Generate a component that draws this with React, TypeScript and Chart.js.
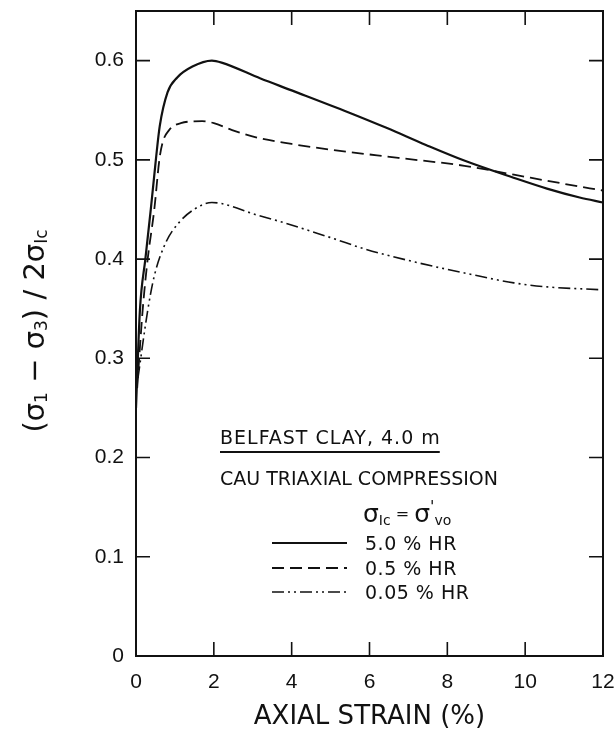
import React, { useEffect, useRef } from 'react';
import { Chart, registerables } from 'chart.js';

Chart.register(...registerables);

// ---- data ----
const xTickValues = [0, 2, 4, 6, 8, 10, 12];
const yTickValues = [0, 0.1, 0.2, 0.3, 0.4, 0.5, 0.6];

const strainHR50 = [0, 0.1, 0.24, 0.38, 0.51, 0.61, 0.81, 1.06, 1.45, 1.95, 2.2, 3.2, 4.0, 5.45, 6.45, 7.45, 8.45, 9.7, 10.56, 11.4, 12];
const ratioHR50 = [0.25, 0.348, 0.4, 0.45, 0.5, 0.534, 0.568, 0.583, 0.594, 0.6, 0.598, 0.582, 0.57, 0.548, 0.532, 0.515, 0.499, 0.482, 0.471, 0.462, 0.457];

const strainHR05 = [0.03, 0.17, 0.3, 0.47, 0.6, 0.68, 0.85, 1.15, 1.7, 2.0, 2.47, 3.15, 4.0, 5.05, 6.74, 8.44, 9.71, 10.98, 12];
const ratioHR05 = [0.27, 0.348, 0.4, 0.45, 0.5, 0.517, 0.53, 0.537, 0.539, 0.537, 0.53, 0.522, 0.516, 0.51, 0.502, 0.494, 0.485, 0.476, 0.469];

const strainHR005 = [0.05, 0.3, 0.47, 0.77, 1.11, 1.49, 1.95, 2.2, 3.06, 3.77, 5.05, 5.89, 7.17, 8.44, 9.71, 10.56, 12];
const ratioHR005 = [0.28, 0.348, 0.383, 0.417, 0.437, 0.45, 0.457, 0.456, 0.445, 0.437, 0.421, 0.41, 0.397, 0.386, 0.376, 0.372, 0.369];

const seriesLabels = ['5.0 % HR', '0.5 % HR', '0.05 % HR'];
const seriesDashes: number[][] = [[], [12, 6], [12, 4, 2, 4, 2, 4]];
const seriesWidths = [2.2, 1.8, 1.6];

const xTitle = 'AXIAL STRAIN (%)';
const noteTitle = 'BELFAST CLAY, 4.0 m';
const noteTest = 'CAU TRIAXIAL COMPRESSION';

const INK = '#111111';
const FONT = '"DejaVu Sans", "Liberation Sans", sans-serif';
const TICK_FONT = '"Liberation Sans", Arial, sans-serif';

type Part = { t: string; size: number; dy?: number };

function drawRich(ctx: CanvasRenderingContext2D, parts: Part[], x: number, y: number, align: 'left' | 'center') {
  let total = 0;
  const widths = parts.map((p) => {
    ctx.font = `${p.size}px ${FONT}`;
    const w = ctx.measureText(p.t).width;
    total += w;
    return w;
  });
  let cx = align === 'center' ? x - total / 2 : x;
  ctx.textAlign = 'left';
  ctx.textBaseline = 'middle';
  parts.forEach((p, i) => {
    ctx.font = `${p.size}px ${FONT}`;
    ctx.fillText(p.t, cx, y + (p.dy || 0));
    cx += widths[i];
  });
}

const framePlugin = {
  id: 'frameTicks',
  afterDatasetsDraw(chart: any) {
    const { ctx, chartArea } = chart;
    const { left, right, top, bottom } = chartArea;
    const xs = chart.scales.x;
    const ys = chart.scales.y;
    const len = 14;
    ctx.save();
    ctx.strokeStyle = INK;
    ctx.lineWidth = 2;
    ctx.strokeRect(left, top, right - left, bottom - top);
    ctx.lineWidth = 1.6;
    ctx.beginPath();
    xTickValues.slice(1, -1).forEach((v) => {
      const px = xs.getPixelForValue(v);
      ctx.moveTo(px, bottom);
      ctx.lineTo(px, bottom - len);
      ctx.moveTo(px, top);
      ctx.lineTo(px, top + len);
    });
    yTickValues.slice(1).forEach((v) => {
      const py = ys.getPixelForValue(v);
      ctx.moveTo(left, py);
      ctx.lineTo(left + len, py);
      ctx.moveTo(right, py);
      ctx.lineTo(right - len, py);
    });
    ctx.stroke();
    ctx.restore();
  },
};

const notePlugin = {
  id: 'notes',
  afterDraw(chart: any) {
    const { ctx } = chart;
    ctx.save();
    ctx.fillStyle = INK;
    ctx.strokeStyle = INK;

    // y-axis title (rotated)
    ctx.save();
    ctx.translate(36, 331);
    ctx.rotate(-Math.PI / 2);
    drawRich(
      ctx,
      [
        { t: '(σ', size: 29 },
        { t: '1', size: 17, dy: 7 },
        { t: ' − σ', size: 29 },
        { t: '3', size: 17, dy: 7 },
        { t: ') / 2σ', size: 29 },
        { t: 'Ic', size: 17, dy: 7 },
      ],
      0,
      0,
      'center'
    );
    ctx.restore();

    // annotation block
    const tx = 220;
    ctx.textAlign = 'left';
    ctx.textBaseline = 'middle';
    ctx.font = `19px ${FONT}`;
    (ctx as any).letterSpacing = '1px';
    ctx.fillText(noteTitle, tx, 439);
    const w = ctx.measureText(noteTitle).width;
    (ctx as any).letterSpacing = '0px';
    ctx.lineWidth = 2;
    ctx.beginPath();
    ctx.moveTo(tx, 452);
    ctx.lineTo(tx + w - 1, 452);
    ctx.stroke();
    ctx.fillText(noteTest, tx, 480);

    drawRich(
      ctx,
      [
        { t: 'σ', size: 25 },
        { t: 'Ic', size: 14, dy: 6 },
        { t: ' = ', size: 16 },
        { t: 'σ', size: 25 },
        { t: "'", size: 16, dy: -7 },
        { t: 'vo', size: 14, dy: 6 },
      ],
      363,
      515,
      'left'
    );

    const rows = [543, 568, 592];
    chart.data.datasets.forEach((ds: any, i: number) => {
      ctx.save();
      ctx.lineWidth = ds.borderWidth;
      ctx.setLineDash(ds.borderDash || []);
      ctx.beginPath();
      ctx.moveTo(272, rows[i]);
      ctx.lineTo(347, rows[i]);
      ctx.stroke();
      ctx.restore();
      ctx.font = `19px ${FONT}`;
      (ctx as any).letterSpacing = '0.5px';
      ctx.textAlign = 'left';
      ctx.textBaseline = 'middle';
      ctx.fillText(ds.label, 365, rows[i] + 2);
      (ctx as any).letterSpacing = '0px';
    });
    ctx.restore();
  },
};

function makeSeries(xs: number[], ys: number[]) {
  return xs.map((x, i) => ({ x, y: ys[i] }));
}

function noScalePadding(s: any) {
  s.paddingTop = 0;
  s.paddingBottom = 0;
  s.paddingLeft = 0;
  s.paddingRight = 0;
}

export default function App() {
  const ref = useRef<HTMLCanvasElement>(null);
  useEffect(() => {
    if (!ref.current) return;
    const seriesData = [
      makeSeries(strainHR50, ratioHR50),
      makeSeries(strainHR05, ratioHR05),
      makeSeries(strainHR005, ratioHR005),
    ];
    const chart = new Chart(ref.current, {
      type: 'line',
      data: {
        datasets: seriesData.map((d, i) => ({
          label: seriesLabels[i],
          data: d,
          borderColor: INK,
          borderWidth: seriesWidths[i],
          borderDash: seriesDashes[i],
          pointRadius: 0,
          fill: false,
          cubicInterpolationMode: 'monotone' as const,
        })),
      },
      options: {
        responsive: false,
        animation: false,
        layout: { padding: { top: 11, right: 11, left: 0, bottom: 0 } },
        plugins: { legend: { display: false }, tooltip: { enabled: false } },
        scales: {
          x: {
            type: 'linear',
            min: 0,
            max: 12,
            afterBuildTicks: (s: any) => {
              s.ticks = xTickValues.map((v) => ({ value: v }));
            },
            afterFit: (s: any) => {
              s.height = 79;
              noScalePadding(s);
            },
            grid: { display: false, drawTicks: false },
            border: { display: false },
            ticks: {
              padding: 14,
              color: INK,
              maxRotation: 0,
              autoSkip: false,
              font: { family: TICK_FONT, size: 21 },
              callback: (v: any) => String(v),
            },
            title: {
              display: true,
              text: xTitle,
              color: INK,
              font: { family: FONT, size: 26 },
              padding: { top: 0, bottom: 2 },
            },
          },
          y: {
            type: 'linear',
            min: 0,
            max: 0.65,
            afterBuildTicks: (s: any) => {
              s.ticks = yTickValues.map((v) => ({ value: v }));
            },
            afterFit: (s: any) => {
              s.width = 136;
              noScalePadding(s);
            },
            grid: { display: false, drawTicks: false },
            border: { display: false },
            ticks: {
              padding: 12,
              color: INK,
              font: { family: TICK_FONT, size: 21 },
              callback: (v: any) => (Number(v) === 0 ? '0' : Number(v).toFixed(1)),
            },
          },
        },
      },
      plugins: [framePlugin, notePlugin],
    });
    return () => chart.destroy();
  }, []);

  return (
    <div style={{ position: 'fixed', left: 0, top: 0, width: 614, height: 735, background: '#fff' }}>
      <canvas ref={ref} width={614} height={735} style={{ display: 'block' }} />
    </div>
  );
}
